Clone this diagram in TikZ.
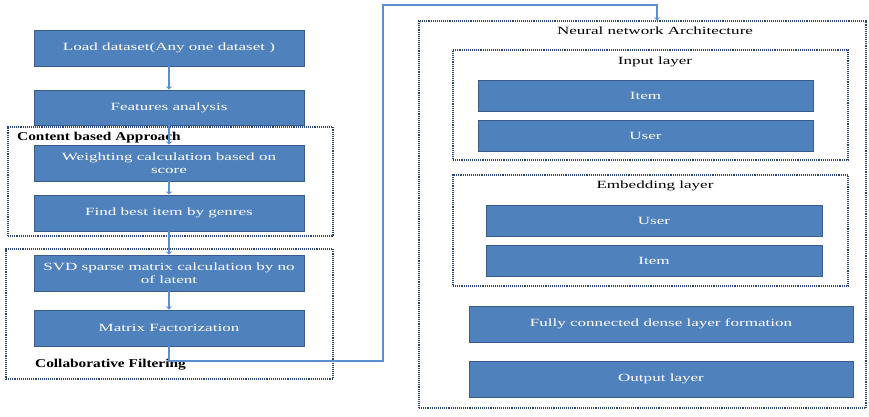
\documentclass[tikz,border=0pt]{standalone}
\usepackage{fontspec}
\setmainfont{Liberation Serif}[FakeStretch=1.55]
\newfontfamily\grouplabel{Liberation Serif}[FakeStretch=1.28]
\usepackage{tikz}
\usetikzlibrary{arrows}
\definecolor{boxblue}{HTML}{4F81BD}
\definecolor{boxedge}{HTML}{385D8A}
\definecolor{dotblue}{HTML}{2B4670}
\definecolor{linkblue}{HTML}{5B8FD0}
\tikzstyle{proc} = [rectangle, fill=boxblue, draw=boxedge, line width=0.9pt, text=white, align=center, font=\fontsize{11}{13}\selectfont, inner sep=0pt]
\tikzstyle{group} = [rectangle, draw=dotblue, line width=1.1pt, densely dotted, inner sep=0pt]
\tikzstyle{title} = [text=black, font=\fontsize{11}{13}\selectfont, inner sep=0pt]
\tikzstyle{arrow} = [draw=linkblue, line width=1.1pt, ->, >=to]

\begin{document}
\begin{tikzpicture}[x=1pt, y=-1pt]
        \useasboundingbox (0,0) rectangle (869,416);
        % left column
        \node [group, minimum width=325pt, minimum height=109pt] at (170.5,181.5) (cba) {};
        \node [group, minimum width=327pt, minimum height=130pt] at (169.5,314) (cf) {};
        \node [proc, minimum width=270pt, minimum height=36pt] at (169,48) (load) {Load dataset(Any one dataset )};
        \node [proc, minimum width=270pt, minimum height=35pt] at (169,107.5) (feat) {Features analysis};
        \node [proc, minimum width=270pt, minimum height=36pt] at (169,163) (weight) {Weighting calculation based on\\score};
        \node [proc, minimum width=270pt, minimum height=36pt] at (169,213) (best) {Find best item by genres};
        \node [proc, minimum width=270pt, minimum height=36pt] at (169,273) (svd) {SVD sparse matrix calculation by no\\of latent};
        \node [proc, minimum width=270pt, minimum height=36pt] at (169,328) (mf) {Matrix Factorization};
        \node [title, anchor=west, font=\fontsize{12}{14}\grouplabel\bfseries] at (17,138) (cbalabel) {Content based Approach};
        \node [title, anchor=west, font=\fontsize{12}{14}\grouplabel\bfseries] at (35,365) (cflabel) {Collaborative Filtering};
        \draw [arrow] (load) -- (feat);
        \draw [arrow] (feat) -- (weight);
        \draw [arrow] (weight) -- (best);
        \draw [arrow] (best) -- (svd);
        \draw [arrow] (svd) -- (mf);

        % network side
        \node [group, minimum width=447pt, minimum height=387pt] at (642.5,214.5) (nn) {};
        \node [title] at (655,31) (nntitle) {Neural network Architecture};
        \node [group, minimum width=395pt, minimum height=110pt] at (650.5,105) (inp) {};
        \node [title] at (655,62) (inplabel) {Input layer};
        \node [proc, minimum width=335pt, minimum height=31pt] at (645.5,95.5) (initem) {Item};
        \node [proc, minimum width=335pt, minimum height=31pt] at (645.5,135.5) (inuser) {User};
        \node [group, minimum width=395pt, minimum height=111pt] at (650.5,230.5) (emb) {};
        \node [title] at (655,186) (emblabel) {Embedding layer};
        \node [proc, minimum width=336pt, minimum height=31pt] at (654,220.5) (embuser) {User};
        \node [proc, minimum width=336pt, minimum height=31pt] at (654,260.5) (embitem) {Item};
        \node [proc, minimum width=384pt, minimum height=36pt] at (661,324) (dense) {Fully connected dense layer formation};
        \node [proc, minimum width=384pt, minimum height=36pt] at (661,379) (out) {Output layer};

        \coordinate (top) at (657,5);
        \draw [arrow] (mf) |- (383,361) |- (top) -- (top |- nn.north);
        \end{tikzpicture}
\end{document}
